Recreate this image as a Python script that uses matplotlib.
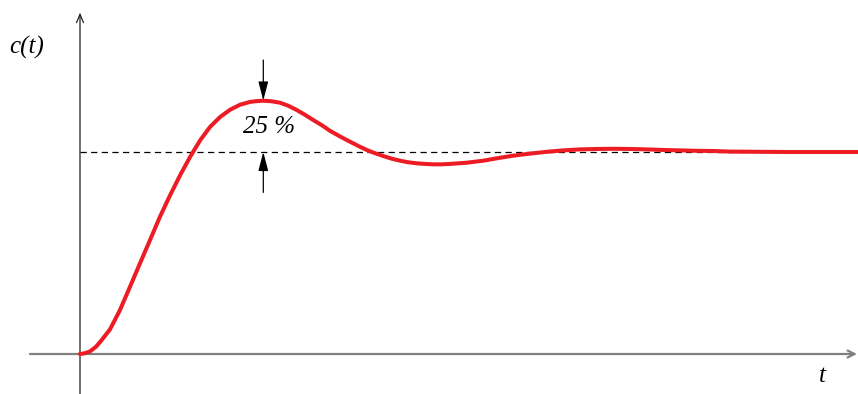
import matplotlib.pyplot as plt

# curve (t in arbitrary units, c normalised to steady state)
t_vals = [0.00, 0.05, 0.10, 0.16, 0.217, 0.30, 0.40, 0.50, 0.60, 0.70,
          0.80, 0.90, 1.00, 1.10, 1.20, 1.30, 1.40, 1.50, 1.60, 1.70,
          1.77, 1.833, 1.917, 2.00, 2.083, 2.167, 2.25, 2.333, 2.417,
          2.50, 2.60, 2.70, 2.783, 2.867, 2.95, 3.033, 3.117, 3.20, 3.283,
          3.367, 3.45, 3.533, 3.617, 3.70, 3.783, 3.867, 3.95, 4.033, 4.183,
          4.333, 4.50, 4.667, 4.833, 5.00, 5.167, 5.333, 5.50, 5.667, 5.833,
          6.00, 6.167, 6.333, 6.50, 6.80, 7.10, 7.45, 7.78]
c_vals = [0.000, 0.004, 0.013, 0.036, 0.069, 0.122, 0.218, 0.333, 0.449, 0.564,
          0.680, 0.785, 0.884, 0.975, 1.057, 1.124, 1.173, 1.209, 1.234, 1.248,
          1.252, 1.254, 1.251, 1.244, 1.229, 1.208, 1.184, 1.158, 1.133,
          1.105, 1.077, 1.051, 1.030, 1.010, 0.994, 0.980, 0.967, 0.957, 0.949,
          0.944, 0.941, 0.939, 0.939, 0.941, 0.944, 0.947, 0.952, 0.957, 0.970,
          0.982, 0.992, 1.001, 1.008, 1.013, 1.015, 1.016, 1.015, 1.013, 1.010,
          1.008, 1.006, 1.005, 1.002, 1.001, 1.000, 1.000, 1.000]
steady = 1.0
peak_t = 1.833
peak_c = 1.25
overshoot_label = "25 %"

red = "#ED1C24"

fig = plt.figure(figsize=(8.58, 3.94), dpi=100)
ax = fig.add_axes([0, 0, 1, 1])
ax.set_xlim(-0.80, 7.78)
ax.set_ylim(-0.198, 1.7525)
ax.axis("off")

# axes with open arrow heads
ax.annotate("", xy=(7.77, 0), xytext=(-0.50, 0),
            arrowprops=dict(arrowstyle="->,head_length=0.5,head_width=0.25",
                            color="#808080", lw=1.6, shrinkA=0, shrinkB=0))
ax.annotate("", xy=(0, 1.69), xytext=(0, -0.198),
            arrowprops=dict(arrowstyle="->,head_length=0.6,head_width=0.25",
                            color="#222222", lw=0.9, shrinkA=0, shrinkB=0))

# steady state line
ax.axhline(steady, xmin=0.0932, color="black", lw=0.9, ls=(0, (5, 3.5)))

# response curve
ax.plot(t_vals, c_vals, color=red, lw=2.9, solid_capstyle="round",
        solid_joinstyle="round", zorder=3)

# overshoot marker arrows
head = "-|>,head_length=1.15,head_width=0.3"
ax.annotate("", xy=(peak_t, peak_c + 0.005), xytext=(peak_t, peak_c + 0.205),
            arrowprops=dict(arrowstyle=head, color="black", lw=0.9,
                            shrinkA=0, shrinkB=0))
ax.annotate("", xy=(peak_t, steady), xytext=(peak_t, steady - 0.2),
            arrowprops=dict(arrowstyle=head, color="black", lw=0.9,
                            shrinkA=0, shrinkB=0))

font = dict(family="Liberation Serif", style="italic", size=18)
ax.text(peak_t + 0.06, 1.125, overshoot_label, ha="center", va="center", **font)
ax.text(-0.53, 1.52, "c(t)", ha="center", va="center", **font)
ax.text(7.42, -0.11, "t", ha="center", va="center", **font)

fig.savefig("out.png", dpi=100)
